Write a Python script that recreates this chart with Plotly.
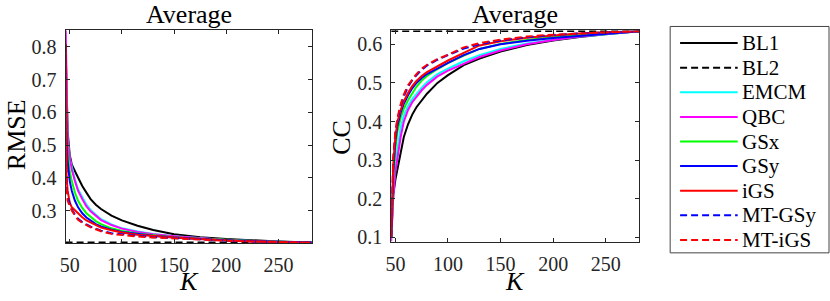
import plotly.graph_objects as go

# ---------------- data ----------------
K = [46, 47, 48, 50, 52, 55, 58, 62, 66, 70, 75, 80, 90, 100, 115, 130, 150, 175, 200, 225, 250, 282]

names = ["BL1", "BL2", "EMCM", "QBC", "GSx", "GSy", "iGS", "MT-GSy", "MT-iGS"]
colors = ["#000000", "#000000", "#00FFFF", "#FF00FF", "#00FF00", "#0000FF", "#FF0000", "#0000FF", "#FF0000"]
dashed = [False, True, False, False, False, False, False, True, True]

rmse_BL1 = [0.80, 0.62, 0.54, 0.47, 0.44, 0.42, 0.40, 0.375, 0.355, 0.335, 0.318, 0.305, 0.285, 0.270, 0.254, 0.241, 0.228, 0.219, 0.213, 0.209, 0.206, 0.203]
rmse_BL2 = [0.2025] * len(K)
rmse_EMCM = [0.80, 0.60, 0.52, 0.46, 0.43, 0.395, 0.365, 0.34, 0.318, 0.302, 0.287, 0.274, 0.258, 0.246, 0.236, 0.229, 0.222, 0.215, 0.210, 0.207, 0.205, 0.203]
rmse_QBC = [0.87, 0.62, 0.52, 0.46, 0.425, 0.39, 0.36, 0.335, 0.313, 0.298, 0.283, 0.271, 0.256, 0.245, 0.235, 0.228, 0.222, 0.215, 0.210, 0.207, 0.205, 0.203]
rmse_GSx = [0.80, 0.55, 0.48, 0.42, 0.39, 0.355, 0.33, 0.308, 0.292, 0.280, 0.268, 0.259, 0.246, 0.238, 0.230, 0.225, 0.219, 0.214, 0.210, 0.207, 0.205, 0.203]
rmse_GSy = [0.80, 0.52, 0.45, 0.39, 0.36, 0.33, 0.31, 0.292, 0.279, 0.269, 0.259, 0.252, 0.242, 0.235, 0.228, 0.223, 0.218, 0.213, 0.209, 0.207, 0.205, 0.203]
rmse_iGS = [0.808, 0.40, 0.36, 0.325, 0.31, 0.30, 0.29, 0.28, 0.27, 0.263, 0.255, 0.248, 0.240, 0.233, 0.226, 0.222, 0.218, 0.213, 0.209, 0.206, 0.204, 0.202]
rmse_MTGSy = [0.808, 0.38, 0.34, 0.318, 0.303, 0.288, 0.275, 0.265, 0.257, 0.251, 0.245, 0.239, 0.231, 0.227, 0.223, 0.219, 0.216, 0.212, 0.208, 0.206, 0.204, 0.202]
rmse_MTiGS = [0.808, 0.37, 0.33, 0.315, 0.30, 0.285, 0.272, 0.263, 0.255, 0.249, 0.243, 0.237, 0.229, 0.225, 0.221, 0.218, 0.215, 0.211, 0.208, 0.206, 0.204, 0.202]

cc_BL1 = [0.10, 0.17, 0.21, 0.25, 0.28, 0.325, 0.36, 0.393, 0.418, 0.437, 0.456, 0.472, 0.500, 0.520, 0.546, 0.563, 0.581, 0.598, 0.610, 0.619, 0.626, 0.634]
cc_BL2 = [0.6345] * len(K)
cc_EMCM = [0.10, 0.17, 0.22, 0.29, 0.33, 0.385, 0.415, 0.44, 0.458, 0.472, 0.488, 0.502, 0.523, 0.537, 0.556, 0.572, 0.588, 0.602, 0.612, 0.620, 0.627, 0.634]
cc_QBC = [0.09, 0.16, 0.21, 0.27, 0.31, 0.36, 0.40, 0.43, 0.45, 0.465, 0.481, 0.495, 0.517, 0.532, 0.550, 0.567, 0.584, 0.600, 0.611, 0.620, 0.627, 0.634]
cc_GSx = [0.10, 0.19, 0.25, 0.33, 0.375, 0.41, 0.433, 0.455, 0.474, 0.490, 0.506, 0.518, 0.536, 0.551, 0.571, 0.588, 0.601, 0.611, 0.618, 0.624, 0.629, 0.634]
cc_GSy = [0.10, 0.20, 0.27, 0.35, 0.39, 0.423, 0.446, 0.468, 0.486, 0.500, 0.513, 0.523, 0.538, 0.552, 0.572, 0.588, 0.600, 0.609, 0.616, 0.622, 0.627, 0.634]
cc_iGS = [0.10, 0.22, 0.29, 0.36, 0.40, 0.43, 0.452, 0.474, 0.492, 0.505, 0.518, 0.528, 0.544, 0.558, 0.578, 0.597, 0.608, 0.617, 0.623, 0.628, 0.631, 0.634]
cc_MTGSy = [0.10, 0.24, 0.30, 0.37, 0.405, 0.44, 0.465, 0.49, 0.507, 0.520, 0.534, 0.545, 0.560, 0.572, 0.589, 0.600, 0.610, 0.618, 0.624, 0.628, 0.631, 0.634]
cc_MTiGS = [0.10, 0.25, 0.31, 0.375, 0.41, 0.445, 0.47, 0.494, 0.510, 0.523, 0.537, 0.547, 0.562, 0.573, 0.592, 0.603, 0.612, 0.620, 0.625, 0.628, 0.631, 0.634]

rmse_series = [rmse_BL1, rmse_BL2, rmse_EMCM, rmse_QBC, rmse_GSx, rmse_GSy, rmse_iGS, rmse_MTGSy, rmse_MTiGS]
cc_series = [cc_BL1, cc_BL2, cc_EMCM, cc_QBC, cc_GSx, cc_GSy, cc_iGS, cc_MTGSy, cc_MTiGS]

x_ticks = [50, 100, 150, 200, 250]
rmse_ticks = [0.3, 0.4, 0.5, 0.6, 0.7, 0.8]
cc_ticks = [0.1, 0.2, 0.3, 0.4, 0.5, 0.6]

# ---------------- figure ----------------
W, H = 830, 301
FONT = "Liberation Serif"
AXC = "#262626"
DASH = "7px,4px"

fig = go.Figure()
for i, n in enumerate(names):
    ln = dict(color=colors[i], width=2, dash=DASH if dashed[i] else "solid")
    fig.add_trace(go.Scatter(x=K, y=rmse_series[i], mode="lines", line=ln, name=n,
                             showlegend=False, xaxis="x", yaxis="y"))
for i, n in enumerate(names):
    ln = dict(color=colors[i], width=2, dash=DASH if dashed[i] else "solid")
    fig.add_trace(go.Scatter(x=K, y=cc_series[i], mode="lines", line=ln, name=n,
                             showlegend=False, xaxis="x2", yaxis="y2"))

def px(x):
    return x / W

def py(y):
    return 1 - y / H

ax_common = dict(showline=True, linecolor=AXC, linewidth=1, mirror="allticks",
                 ticks="inside", ticklen=4, tickwidth=1, tickcolor=AXC,
                 showgrid=False, zeroline=False,
                 tickfont=dict(family=FONT, size=20, color=AXC))

fig.update_layout(
    width=W, height=H, margin=dict(l=0, r=0, t=0, b=0),
    paper_bgcolor="white", plot_bgcolor="white", showlegend=False,
    font=dict(family=FONT),
    xaxis=dict(domain=[px(60), px(308)], range=[46, 282], tickvals=x_ticks,
               anchor="y", ticklabelstandoff=4, **ax_common),
    yaxis=dict(domain=[py(248), py(31)], range=[0.201, 0.85], tickvals=rmse_ticks,
               anchor="x", ticklabelstandoff=4, **ax_common),
    xaxis2=dict(domain=[px(388), px(638)], range=[46, 282], tickvals=x_ticks,
                anchor="y2", ticklabelstandoff=4, **ax_common),
    yaxis2=dict(domain=[py(247), py(31)], range=[0.088, 0.636], tickvals=cc_ticks,
                anchor="x2", ticklabelstandoff=4, **ax_common),
)

ann = []
def text(x, y, s, size, **kw):
    ann.append(dict(x=px(x), y=py(y), xref="paper", yref="paper", text=s,
                    showarrow=False, xanchor="center", yanchor="middle",
                    font=dict(family=FONT, size=size, color="black"), **kw))

text(184, 15, "Average", 26)
text(513, 15, "Average", 26)
text(10, 137, "RMSE", 26, textangle=-90)
text(338, 140, "CC", 26, textangle=-90)
text(184, 287, "<i>K</i>", 26)
text(513, 287, "<i>K</i>", 26)

# legend (drawn manually)
shapes = [dict(type="rect", xref="paper", yref="paper", x0=px(669), x1=px(829),
               y0=py(258), y1=py(27), line=dict(color="#444444", width=1),
               fillcolor="white", layer="above")]
for i, n in enumerate(names):
    yy = 44 + i * 25.1
    shapes.append(dict(type="line", xref="paper", yref="paper", x0=px(679), x1=px(737),
                       y0=py(yy), y1=py(yy),
                       line=dict(color=colors[i], width=2, dash=DASH if dashed[i] else "solid")))
    ann.append(dict(x=px(739), y=py(yy), xref="paper", yref="paper", text=n,
                    showarrow=False, xanchor="left", yanchor="middle",
                    font=dict(family=FONT, size=21, color="black")))

fig.update_layout(annotations=ann, shapes=shapes)
fig.write_html("out.html", config={"displayModeBar": False},
               post_script="document.body.style.margin='0';document.body.style.overflow='hidden';")
